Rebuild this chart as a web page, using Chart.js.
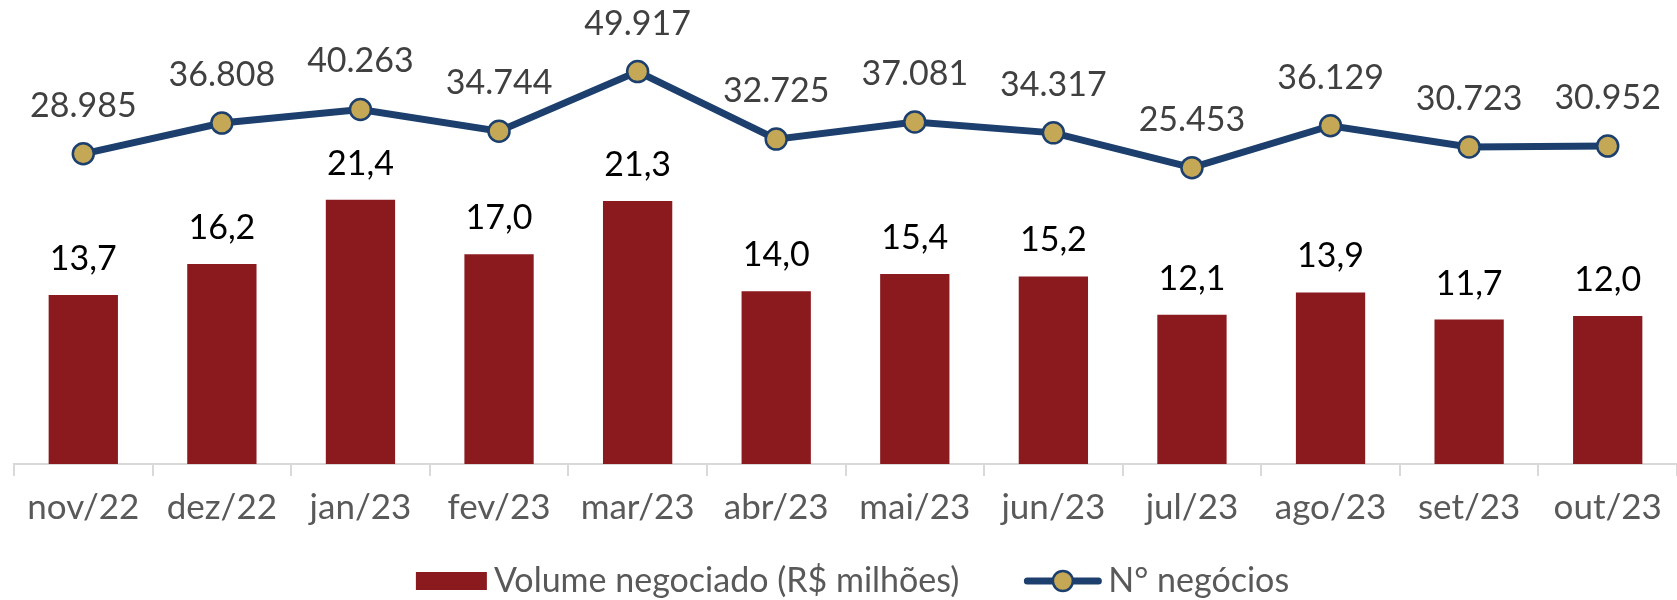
<!DOCTYPE html>
<html>
<head>
<meta charset="utf-8">
<script src="https://cdn.jsdelivr.net/npm/chart.js@4"></script>
<style>
  html, body { margin: 0; padding: 0; background: #fff; }
  #wrap { width: 1677px; height: 600px; }
</style>
</head>
<body>
<div id="wrap"><canvas id="myChart" width="1677" height="600"></canvas></div>
<script>
const months = ['nov/22', 'dez/22', 'jan/23', 'fev/23', 'mar/23', 'abr/23', 'mai/23', 'jun/23', 'jul/23', 'ago/23', 'set/23', 'out/23'];
const volume = [13.7, 16.2, 21.4, 17.0, 21.3, 14.0, 15.4, 15.2, 12.1, 13.9, 11.7, 12.0];
const negocios = [28985, 36808, 40263, 34744, 49917, 32725, 37081, 34317, 25453, 36129, 30723, 30952];
const seriesNames = ['Volume negociado (R$ milhões)', 'N° negócios'];

const barColor = '#8B1A1F';
const lineColor = '#1C3F6E';
const dotColor = '#C4A855';
const fontName = 'Lato, "Open Sans", sans-serif';

// value labels above bars and points
const valueLabels = {
    id: 'valueLabels',
    afterDatasetsDraw(chart) {
        const ctx = chart.ctx;
        ctx.save();
        ctx.textAlign = 'center';
        ctx.textBaseline = 'middle';
        ctx.font = '34px ' + fontName;
        chart.getDatasetMeta(1).data.forEach((bar, i) => {
            ctx.fillStyle = '#000';
            ctx.fillText(volume[i].toFixed(1).replace('.', ','), bar.x, bar.y - 36);
        });
        chart.getDatasetMeta(0).data.forEach((pt, i) => {
            ctx.fillStyle = '#404040';
            ctx.fillText(negocios[i].toLocaleString('pt-BR'), pt.x, pt.y - 48);
        });
        ctx.restore();
    }
};

// legend drawn by hand so the line marker looks like the original
const customLegend = {
    id: 'customLegend',
    afterDraw(chart) {
        const ctx = chart.ctx;
        ctx.save();
        ctx.font = '34px ' + fontName;
        ctx.textBaseline = 'middle';
        const y = 581;
        const boxW = 71, gap = 7, itemGap = 65, lineW = 77;
        const w0 = ctx.measureText(seriesNames[0]).width;
        const w1 = ctx.measureText(seriesNames[1]).width;
        const total = boxW + gap + w0 + itemGap + lineW + gap + w1;
        let x = chart.width / 2 - total / 2 + 14;

        ctx.fillStyle = barColor;
        ctx.fillRect(x, y - 9, boxW, 18);
        x += boxW + gap;
        ctx.fillStyle = '#595959';
        ctx.fillText(seriesNames[0], x, y);
        x += w0 + itemGap;

        ctx.strokeStyle = lineColor;
        ctx.lineWidth = 7;
        ctx.lineCap = 'round';
        ctx.beginPath();
        ctx.moveTo(x + 3, y);
        ctx.lineTo(x + lineW - 3, y);
        ctx.stroke();
        ctx.beginPath();
        ctx.arc(x + lineW / 2, y, 10, 0, Math.PI * 2);
        ctx.fillStyle = dotColor;
        ctx.fill();
        ctx.lineWidth = 2.5;
        ctx.stroke();
        x += lineW + gap;
        ctx.fillStyle = '#595959';
        ctx.fillText(seriesNames[1], x, y);
        ctx.restore();
    }
};

const ctx = document.getElementById('myChart');

var chart = new Chart(ctx, {
    data: {
        labels: months,
        datasets: [{
            type: 'line',
            label: seriesNames[1],
            data: negocios,
            yAxisID: 'y2',
            borderColor: lineColor,
            borderWidth: 7,
            pointRadius: 10.5,
            pointBackgroundColor: dotColor,
            pointBorderColor: lineColor,
            pointBorderWidth: 2.5,
            tension: 0,
            order: 0
        }, {
            type: 'bar',
            label: seriesNames[0],
            data: volume,
            yAxisID: 'y',
            backgroundColor: barColor,
            barPercentage: 0.5,
            categoryPercentage: 1,
            order: 1
        }]
    },
    options: {
        responsive: false,
        animation: false,
        layout: {
            autoPadding: false,
            padding: { left: 14, right: 0, top: 32, bottom: 60 }
        },
        plugins: {
            legend: { display: false },
            tooltip: { enabled: false }
        },
        scales: {
            x: {
                offset: true,
                grid: {
                    display: true,
                    offset: true,
                    drawOnChartArea: false,
                    drawTicks: true,
                    tickLength: 12,
                    color: '#D9D9D9',
                    lineWidth: 2
                },
                border: { display: true, color: '#D9D9D9', width: 2 },
                ticks: {
                    color: '#595959',
                    padding: 11,
                    maxRotation: 0,
                    autoSkip: false,
                    font: { family: fontName, size: 35 }
                }
            },
            y: {
                display: false,
                min: 0,
                max: 35
            },
            y2: {
                display: false,
                min: -50000,
                max: 60000
            }
        }
    },
    plugins: [valueLabels, customLegend]
});
</script>
</body>
</html>
